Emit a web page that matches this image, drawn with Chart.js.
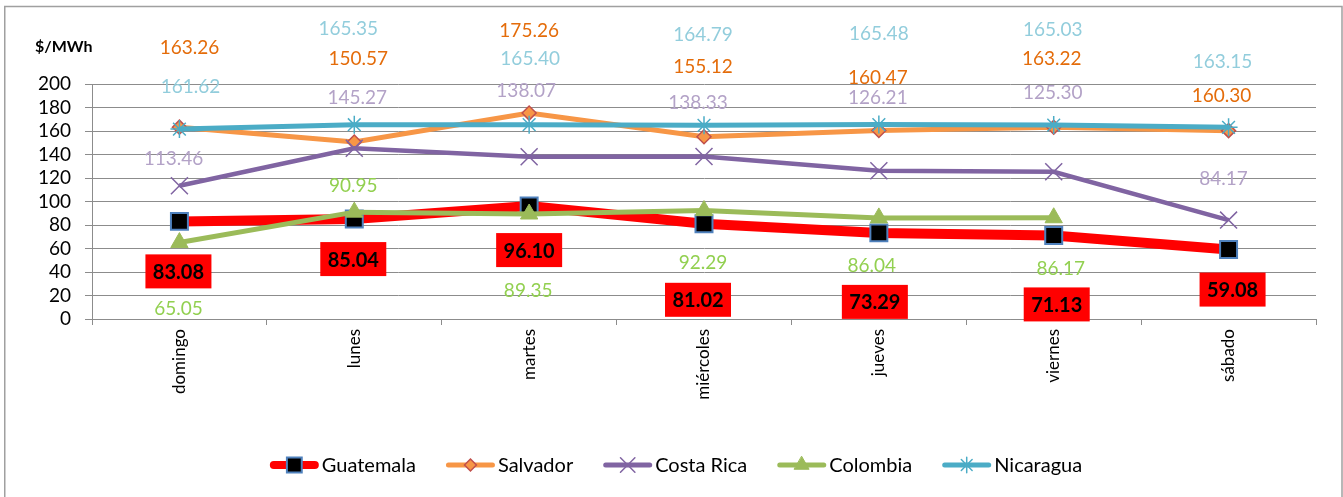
<!DOCTYPE html>
<html>
<head>
<meta charset="utf-8">
<script src="https://cdn.jsdelivr.net/npm/chart.js@4/dist/chart.umd.min.js"></script>
<style>
  html, body { margin: 0; padding: 0; background: #fff; }
  #wrap { width: 1343px; height: 497px; position: relative; }
</style>
</head>
<body>
<div id="wrap"><canvas id="priceChart" width="1343" height="497"></canvas></div>
<script>
const days = ["domingo", "lunes", "martes", "miércoles", "jueves", "viernes", "sábado"];
const yTicks = [0, 20, 40, 60, 80, 100, 120, 140, 160, 180, 200];
const guatemala = [83.08, 85.04, 96.10, 81.02, 73.29, 71.13, 59.08];
const salvador = [163.26, 150.57, 175.26, 155.12, 160.47, 163.22, 160.30];
const costaRica = [113.46, 145.27, 138.07, 138.33, 126.21, 125.30, 84.17];
const colombia = [65.05, 90.95, 89.35, 92.29, 86.04, 86.17, null];
const nicaragua = [161.62, 165.35, 165.40, 164.79, 165.48, 165.03, 163.15];

// where each data label sits relative to its point [dx, dy] in px
const labelShift = {
  Guatemala: [[-1, 50], [-1, 40], [0, 44], [-6, 76], [-4, 69], [3, 69], [4, 40]],
  Salvador: [[10, -80], [4, -84], [0, -83], [-1, -71], [-1, -54], [-2, -69], [-7, -36]],
  "Costa Rica": [[-6, -28], [3, -51], [-3, -67], [-6, -55], [-1, -74], [-1, -80], [-5, -42]],
  Colombia: [[-1, 65], [-1, -27], [-1, 76], [-1, 51], [-7, 47], [7, 50], [0, 0]],
  Nicaragua: [[11, -43], [-6, -97], [1, -67], [-1, -91], [0, -92], [-1, -96], [-6, -66]]
};
const labelColors = {
  Salvador: "#E46C0A", "Costa Rica": "#B3A2C7", Colombia: "#92D050", Nicaragua: "#92CDDC"
};

const FONT = "Lato, 'Open Sans', sans-serif";

const ds = [
  { label: "Guatemala", data: guatemala, borderColor: "#FF0000", borderWidth: 10, order: 5,
    pointStyle: "rect", pointRadius: 12, pointBackgroundColor: "#000000",
    pointBorderColor: "#4F81BD", pointBorderWidth: 2 },
  { label: "Salvador", data: salvador, borderColor: "#F79646", borderWidth: 5, order: 4,
    pointStyle: "rectRot", pointRadius: 7, pointBackgroundColor: "#F79646",
    pointBorderColor: "#C0504D", pointBorderWidth: 1.5 },
  { label: "Costa Rica", data: costaRica, borderColor: "#8064A2", borderWidth: 4.5, order: 3,
    pointStyle: "crossRot", pointRadius: 12, pointBackgroundColor: "#8064A2",
    pointBorderColor: "#8064A2", pointBorderWidth: 1.5 },
  { label: "Colombia", data: colombia, borderColor: "#9BBB59", borderWidth: 5, order: 2,
    pointStyle: "triangle", pointRadius: 10, pointBackgroundColor: "#9BBB59",
    pointBorderColor: "#9BBB59", pointBorderWidth: 1 },
  { label: "Nicaragua", data: nicaragua, borderColor: "#4BACC6", borderWidth: 5, order: 1,
    pointStyle: "star", pointRadius: 9, pointBackgroundColor: "#4BACC6",
    pointBorderColor: "#4BACC6", pointBorderWidth: 1.5 }
];
ds.forEach(d => { d.tension = 0; d.fill = false; d.pointHoverRadius = d.pointRadius; });

function drawMarker(ctx, d, x, y, r) {
  ctx.save();
  ctx.fillStyle = d.pointBackgroundColor;
  ctx.strokeStyle = d.pointBorderColor;
  ctx.lineWidth = d.pointBorderWidth;
  ctx.beginPath();
  if (d.pointStyle === "rect") {
    const s = r * Math.SQRT1_2;
    ctx.rect(x - s, y - s, 2 * s, 2 * s);
    ctx.fill(); ctx.stroke();
  } else if (d.pointStyle === "rectRot") {
    ctx.moveTo(x, y - r); ctx.lineTo(x + r, y); ctx.lineTo(x, y + r); ctx.lineTo(x - r, y);
    ctx.closePath(); ctx.fill(); ctx.stroke();
  } else if (d.pointStyle === "triangle") {
    for (let k = 0; k < 3; k++) {
      const a = k * 2 * Math.PI / 3;
      const px = x + Math.sin(a) * r, py = y - Math.cos(a) * r;
      if (k === 0) ctx.moveTo(px, py); else ctx.lineTo(px, py);
    }
    ctx.closePath(); ctx.fill(); ctx.stroke();
  } else {
    const s = r * Math.SQRT1_2;
    ctx.moveTo(x - s, y - s); ctx.lineTo(x + s, y + s);
    ctx.moveTo(x - s, y + s); ctx.lineTo(x + s, y - s);
    if (d.pointStyle === "star") {
      ctx.moveTo(x, y - r); ctx.lineTo(x, y + r);
      ctx.moveTo(x - r, y); ctx.lineTo(x + r, y);
    }
    ctx.stroke();
  }
  ctx.restore();
}

const extras = {
  id: "extras",
  beforeDraw(chart) {
    const c = chart.ctx;
    c.save();
    // outer frame (bottom edge falls outside the picture)
    c.strokeStyle = "#A0A0A0";
    c.lineWidth = 1.5;
    c.beginPath();
    c.moveTo(4.75, 497); c.lineTo(4.75, 6.5); c.lineTo(1342, 6.5); c.lineTo(1342, 497);
    c.stroke();
    c.fillStyle = "#000";
    c.font = "bold 16px " + FONT;
    c.textBaseline = "middle";
    c.fillText("$/MWh", 35, 47);
    c.restore();
  },
  afterDatasetsDraw(chart) {
    const c = chart.ctx;
    c.save();
    c.textAlign = "center";
    c.textBaseline = "middle";
    chart.data.datasets.forEach((d, i) => {
      const meta = chart.getDatasetMeta(i);
      d.data.forEach((v, j) => {
        if (v === null) return;
        const pt = meta.data[j];
        const sh = labelShift[d.label][j];
        const x = pt.x + sh[0], y = pt.y + sh[1];
        const txt = v.toFixed(2);
        if (d.label === "Guatemala") {
          c.fillStyle = "#FF0000";
          c.fillRect(x - 33, y - 17, 66, 34);
          c.fillStyle = "#000";
          c.font = "bold 20px " + FONT;
        } else {
          c.fillStyle = labelColors[d.label];
          c.font = "19px " + FONT;
        }
        c.fillText(txt, x, y + 1);
      });
    });
    c.restore();
  },
  afterDraw(chart) {
    // legend: line + marker, then name
    const c = chart.ctx;
    const y = 465;
    c.save();
    c.font = "20px " + FONT;
    c.textBaseline = "middle";
    const iconW = 49, gap = 3, spacing = 30;
    const widths = chart.data.datasets.map(d => iconW + gap + c.measureText(d.label).width);
    const total = widths.reduce((a, b) => a + b, 0) + spacing * (widths.length - 1);
    let x = 676 - total / 2;
    chart.data.datasets.forEach((d, i) => {
      const lw = d.label === "Guatemala" ? 8 : 5;
      c.strokeStyle = d.borderColor;
      c.lineWidth = lw;
      c.lineCap = "round";
      c.beginPath();
      c.moveTo(x + lw / 2, y);
      c.lineTo(x + iconW - lw / 2, y);
      c.stroke();
      drawMarker(c, d, x + iconW / 2, y, d.label === "Guatemala" ? 10.5 : d.pointRadius * 0.85);
      c.fillStyle = "#000";
      c.fillText(d.label, x + iconW + gap, y + 1);
      x += widths[i] + spacing;
    });
    c.restore();
  }
};

const chart = new Chart(document.getElementById("priceChart"), {
  type: "line",
  data: { labels: days, datasets: ds },
  options: {
    responsive: false,
    animation: false,
    devicePixelRatio: 1,
    layout: { padding: { left: 0, right: 27, top: 84, bottom: 78 } },
    plugins: { legend: { display: false }, tooltip: { enabled: false } },
    scales: {
      x: {
        offset: true,
        grid: { offset: true, drawOnChartArea: false, color: "#8C8C8C", tickLength: 6 },
        border: { color: "#8C8C8C" },
        ticks: { autoSkip: false, minRotation: 90, maxRotation: 90, padding: 4,
          color: "#000", font: { family: FONT, size: 17 } },
        afterFit(s) { s.height = 100; }
      },
      y: {
        min: 0, max: 200,
        afterBuildTicks(s) { s.ticks = yTicks.map(v => ({ value: v })); },
        grid: { color: "#8C8C8C", tickLength: 7 },
        border: { color: "#8C8C8C" },
        ticks: { autoSkip: false, padding: 14, color: "#000", font: { family: FONT, size: 19 } },
        afterFit(s) { s.width = 92; }
      }
    }
  },
  plugins: [extras]
});
</script>
</body>
</html>
